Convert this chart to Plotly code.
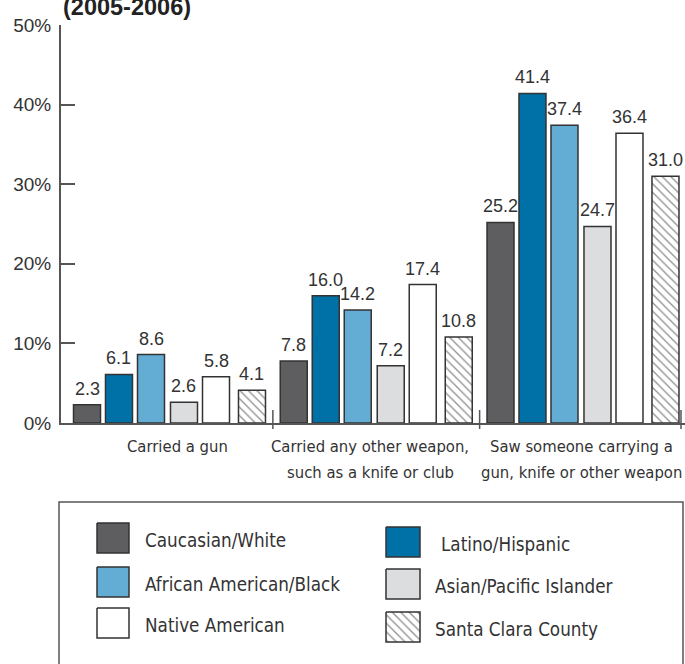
import plotly.graph_objects as go

# ---- data -------------------------------------------------------------
categories = [
    "Carried a gun",
    "Carried any other weapon, such as a knife or club",
    "Saw someone carrying a gun, knife or other weapon",
]
category_lines = [
    ["Carried a gun"],
    ["Carried any other weapon,", "such as a knife or club"],
    ["Saw someone carrying a", "gun, knife or other weapon"],
]
series_names = [
    "Caucasian/White",
    "Latino/Hispanic",
    "African American/Black",
    "Asian/Pacific Islander",
    "Native American",
    "Santa Clara County",
]
caucasian = [2.3, 7.8, 25.2]
latino = [6.1, 16.0, 41.4]
african = [8.6, 14.2, 37.4]
asian = [2.6, 7.2, 24.7]
native = [5.8, 17.4, 36.4]
county = [4.1, 10.8, 31.0]
series_values = [caucasian, latino, african, asian, native, county]

y_ticks = [0, 10, 20, 30, 40, 50]
y_tick_labels = ["0%", "10%", "20%", "30%", "40%", "50%"]
title_text = "(2005-2006)"

# ---- styling ----------------------------------------------------------
W, H = 685, 664
TEXT = "#333333"
AXIS = "#555555"
NARROW = "DejaVu Sans Condensed, Liberation Sans Narrow, Roboto, sans-serif"
REGULAR = "Liberation Sans, Arial, sans-serif"

fills = ["#5e5e60", "#0071a6", "#63acd3", "#dcdddf", "#ffffff", "#ffffff"]
patterns = ["", "", "", "", "", "\\"]
HATCH = dict(fgcolor="#222222", bgcolor="#ffffff", size=6, solidity=0.22)

# bar placement inside each category slot (category units)
bar_offsets = [-0.4643, -0.3096, -0.1548, 0.0048, 0.1596, 0.3337]
bar_width = 0.1306
label_shift = [0.041, -0.03, -0.005]


def px_x(p):
    return p / W


def px_y(p):
    return 1 - p / H


fig = go.Figure()

for name, vals, color, pat, off in zip(series_names, series_values, fills, patterns, bar_offsets):
    fig.add_trace(go.Bar(
        x=categories,
        y=vals,
        name=name,
        offset=off,
        width=bar_width,
        marker=dict(
            color=color,
            line=dict(color="#333333", width=1.5),
            pattern=dict(shape=pat, fillmode="overlay", **HATCH),
        ),
        hoverinfo="skip",
        showlegend=False,
        xaxis="x",
        yaxis="y",
    ))
    # value labels above each bar
    for ci, v in enumerate(vals):
        fig.add_annotation(
            x=ci + off + bar_width / 2, y=v, xref="x", yref="y",
            text=f"{v:.1f}", showarrow=False, xanchor="center", yanchor="bottom",
            yshift=4, font=dict(family=REGULAR, size=18, color=TEXT),
        )

# category labels under the x axis
for ci, lines in enumerate(category_lines):
    for li, line in enumerate(lines):
        fig.add_annotation(
            x=ci + label_shift[ci], y=px_y(446 + 26 * li), xref="x", yref="paper",
            text=line, showarrow=False, xanchor="center", yanchor="middle",
            font=dict(family=NARROW, size=16.5, color=TEXT),
        )

# ---- legend drawn in a pixel-space overlay --------------------------------
legend_cols = [(97, 129, 143), (386, 420, 433), (97, 129, 143), (386, 420, 433), (97, 129, 143), (386, 420, 433)]
legend_rows = [(523, 553), (527, 557), (567, 597), (569, 599), (608, 638), (612, 642)]

for k in range(len(series_names)):
    x0, x1, tx = legend_cols[k]
    y0, y1 = legend_rows[k]
    fig.add_trace(go.Scatter(
        x=[x0, x1, x1, x0, x0],
        y=[y0, y0, y1, y1, y0],
        mode="lines",
        fill="toself",
        fillcolor=fills[k],
        fillpattern=dict(shape=patterns[k], **HATCH) if patterns[k] else None,
        line=dict(color="#333333", width=1.5),
        hoverinfo="skip",
        showlegend=False,
        xaxis="x2",
        yaxis="y2",
    ))
    fig.add_annotation(
        x=tx + (6 if k == 1 else 0), y=(y0 + y1) / 2 + 2, xref="x2", yref="y2",
        text=series_names[k], showarrow=False, xanchor="left", yanchor="middle",
        font=dict(family=NARROW, size=18.7, color=TEXT),
    )

shapes = [
    # legend frame (bottom edge runs off the page)
    dict(type="rect", xref="x2", yref="y2", x0=59, x1=683, y0=502, y1=720,
         line=dict(color=AXIS, width=1.5), fillcolor="rgba(0,0,0,0)", layer="below"),
]
# category separators on the x axis
for xd in [0.5, 1.5, 2.474]:
    shapes.append(dict(type="line", xref="x", yref="paper", x0=xd, x1=xd,
                       y0=px_y(429), y1=px_y(410), line=dict(color=AXIS, width=1.5)))

fig.add_annotation(
    x=px_x(61), y=px_y(7), xref="paper", yref="paper",
    text="<b>" + title_text + "</b>", showarrow=False,
    xanchor="left", yanchor="middle",
    font=dict(family=REGULAR, size=23.5, color="#222222"),
)

fig.update_layout(
    width=W,
    height=H,
    margin=dict(l=0, r=0, t=0, b=0),
    paper_bgcolor="white",
    plot_bgcolor="rgba(0,0,0,0)",
    barmode="overlay",
    showlegend=False,
    shapes=shapes,
    xaxis=dict(
        domain=[px_x(61), 1],
        range=[-0.5248, 2.4934],
        type="category",
        showline=True, linecolor=AXIS, linewidth=2,
        ticks="", showgrid=False, zeroline=False,
        showticklabels=False,
        automargin=False, fixedrange=True,
    ),
    yaxis=dict(
        domain=[px_y(423), px_y(25)],
        range=[0, 50],
        tickvals=y_ticks, ticktext=y_tick_labels,
        ticks="inside", ticklen=14, tickwidth=1.5, tickcolor=AXIS,
        showline=True, linecolor=AXIS, linewidth=2,
        showgrid=False, zeroline=False,
        tickfont=dict(family=REGULAR, size=19, color=TEXT),
        ticklabelstandoff=4,
        automargin=False, fixedrange=True,
    ),
    xaxis2=dict(domain=[0, 1], range=[0, W], visible=False, fixedrange=True, anchor="y2"),
    yaxis2=dict(domain=[0, px_y(500)], range=[H, 500], visible=False, fixedrange=True, anchor="x2"),
)

fig.write_html("out.html")
